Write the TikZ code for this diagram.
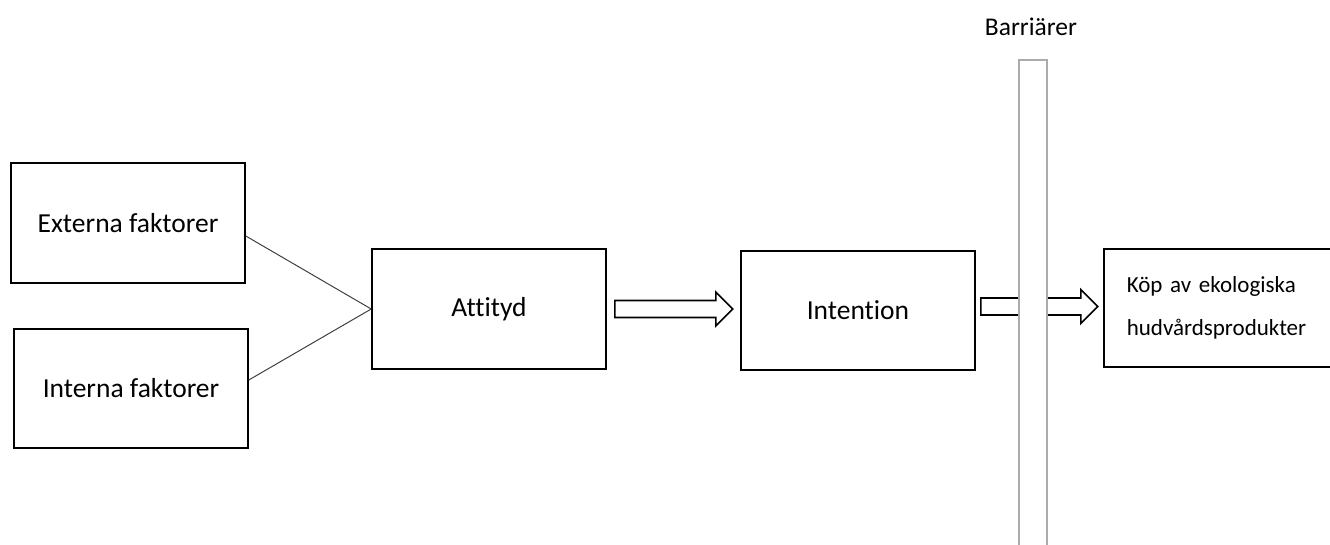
\documentclass[tikz,border=0pt]{standalone}
\usepackage{fontspec}
\setmainfont{Carlito}[Ligatures={NoCommon}]
\usetikzlibrary{calc}

\definecolor{linkgray}{HTML}{404040}
\definecolor{barriergray}{HTML}{ABABAB}

% outlined block arrow: start coordinate, length
\newcommand{\blockarrow}[2]{%
  \draw[blockarrow] (#1) ++(0,-8.5) -- ++(#2-17,0) -- ++(0,-8.5) -- ++(17,17)
    -- ++(-17,17) -- ++(0,-8.5) -- ++({17-#2},0) -- cycle;}

\begin{document}
\begin{tikzpicture}[x=1pt, y=-1pt,
    box/.style={draw, line width=1.6pt, minimum width=234pt, minimum height=120pt,
      inner sep=0pt, font=\fontsize{27.5}{33}\selectfont},
    link/.style={line width=1pt, draw=linkgray},
    blockarrow/.style={draw, line width=1.6pt, fill=white, line join=miter},
    barrier/.style={draw=barriergray, line width=2pt, fill=white}]
        \useasboundingbox (0,0) rectangle (1330,545);
        \clip (0,0) rectangle (1330,545);

        % Nodes
        \node (ext) at (128,223) [box] {Externa faktorer};
        \node (int) at (131,388.5) [box, minimum height=119pt] {Interna faktorer};
        \node (att) at (489,309) [box] {Attityd};
        \node (intn) at (858,310.5) [box, minimum height=119pt] {Intention};
        \node (kop) at (1103,248) [box, anchor=north west, minimum width=237pt,
          minimum height=118pt, text width=191pt, align=left,
          font=\fontsize{23}{43}\selectfont] {Köp av ekologiska\\hudvårdsprodukter};

        % Edges
        \draw[link] ($(ext.east)+(0,13)$) -- (att.west);
        \draw[link] ($(int.east)+(0,-8.5)$) -- (att.west);

        % Block arrows
        \coordinate (a1) at ($(att.east)+(8,0)$);
        \coordinate (a2) at ($(intn.east)+(5,-4)$);
        \blockarrow{a1}{118}
        \blockarrow{a2}{117}

        % Barrier
        \node (bar) at (1033,59) [barrier, anchor=north, minimum width=28pt,
          minimum height=520pt] {};
        \node (barlabel) at (1031,27) [font=\fontsize{25.5}{30}\selectfont] {Barriärer};
    \end{tikzpicture}
\end{document}
